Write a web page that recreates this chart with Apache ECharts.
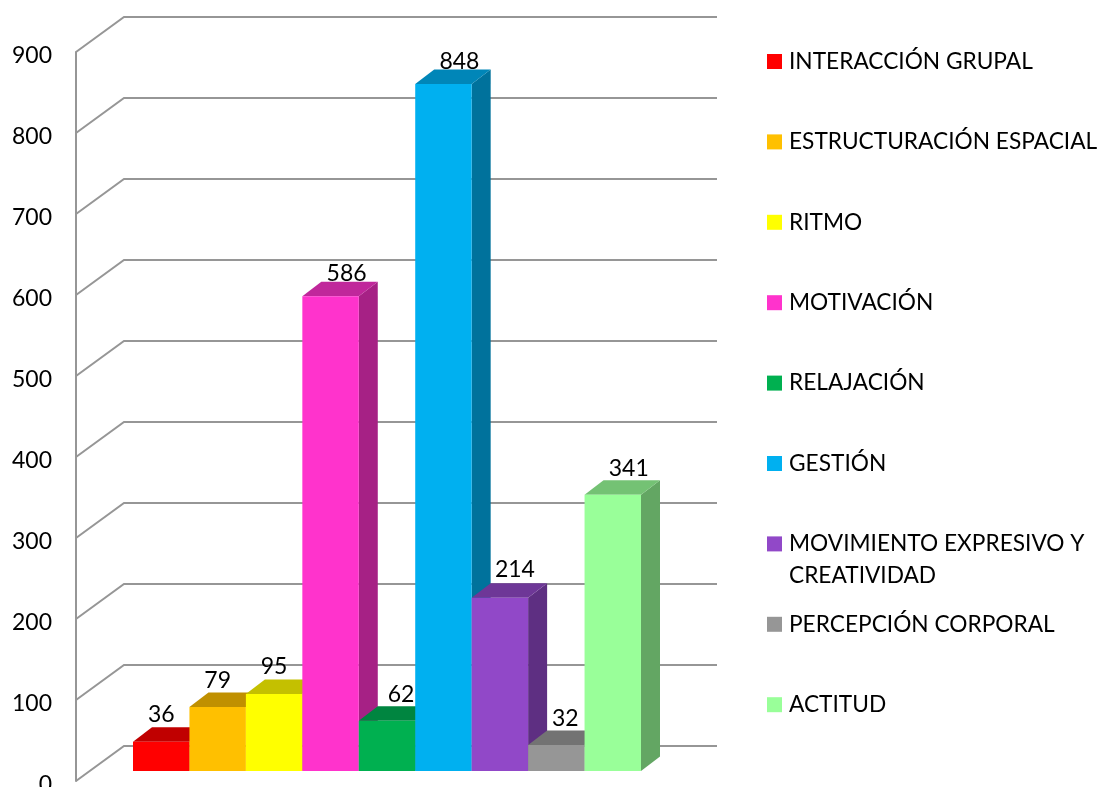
<!DOCTYPE html>
<html>
<head>
<meta charset="utf-8">
<style>html,body{margin:0;padding:0;background:#fff}#main{width:1099px;height:787px}</style>
<script src="https://cdn.jsdelivr.net/npm/echarts@6/dist/echarts.min.js"></script>
</head>
<body>
<div id="main"></div>
<script>
var categories = ['INTERACCIÓN GRUPAL', 'ESTRUCTURACIÓN ESPACIAL', 'RITMO', 'MOTIVACIÓN', 'RELAJACIÓN', 'GESTIÓN', 'MOVIMIENTO EXPRESIVO Y CREATIVIDAD', 'PERCEPCIÓN CORPORAL', 'ACTITUD'];
var values = [36, 79, 95, 586, 62, 848, 214, 32, 341];
var yTicks = [0, 100, 200, 300, 400, 500, 600, 700, 800, 900];

var frontColors = ['#FF0000', '#FFC000', '#FFFF00', '#FF33CC', '#00B050', '#00B0F0', '#9148C8', '#969696', '#99FF99'];
var topColors = ['#C00000', '#C09000', '#C4C000', '#C0279B', '#008540', '#0086B8', '#6E3797', '#737373', '#74C274'];
var sideColors = ['#A60000', '#A67D00', '#A6A600', '#A62185', '#00722D', '#00729C', '#5E2F82', '#616161', '#63A663'];
// the data labels were placed by hand in the original
var labelShift = [0, 0, 0, 16, 14, 16, 15, 9, 16];
var labelRaise = [13, 12, 13, 8, 12, 8, 14, 12, 12];

var myChart = echarts.init(document.getElementById('main'));
var FONT = 'Lato';
var wallDx = 48, wallDy = -35;   // perspective of the walls
var barDx = 19, barDy = -14.5;   // depth of the bars

function renderWall (params, api) {
    var left = api.coord([0, api.value(0)]);
    var right = api.coord([1, api.value(0)]);
    return {
        type: 'polyline',
        shape: {points: [left, [left[0] + wallDx, left[1] + wallDy], [right[0] + wallDx, right[1] + wallDy]]},
        style: {stroke: '#969696', lineWidth: 2, fill: null}
    };
}

function makeBarRender (i) {
    return function (params, api) {
        var t = api.coord([api.value(0), api.value(1)]);
        var b = api.coord([api.value(0), 0]);
        var w = api.size([1, 0])[0];
        var x0 = t[0] - w / 2, x1 = t[0] + w / 2;
        return {
            type: 'group',
            children: [
                {
                    type: 'polygon', z2: i,
                    shape: {points: [[x1, t[1]], [x1 + barDx, t[1] + barDy], [x1 + barDx, b[1] + barDy], [x1, b[1]]]},
                    style: {fill: sideColors[i]}
                },
                {
                    type: 'polygon', z2: i,
                    shape: {points: [[x0, t[1]], [x0 + barDx, t[1] + barDy], [x1 + barDx, t[1] + barDy], [x1, t[1]]]},
                    style: {fill: topColors[i]}
                },
                {
                    type: 'rect', z2: i,
                    shape: {x: x0, y: t[1], width: w, height: b[1] - t[1]},
                    style: {fill: frontColors[i]}
                },
                {
                    type: 'text', z2: 100,
                    x: t[0] + labelShift[i],
                    y: t[1] + barDy - labelRaise[i],
                    style: {text: String(api.value(1)), font: '23px ' + FONT, fill: '#000', align: 'center', verticalAlign: 'middle'}
                }
            ]
        };
    };
}

var series = [{
    name: 'walls',
    type: 'custom',
    xAxisIndex: 0,
    yAxisIndex: 0,
    silent: true,
    renderItem: renderWall,
    encode: {y: 0},
    data: yTicks.map(function (v) { return [v]; })
}];
categories.forEach(function (name, i) {
    series.push({
        name: name,
        type: 'custom',
        xAxisIndex: 1,
        yAxisIndex: 1,
        itemStyle: {color: frontColors[i]},
        renderItem: makeBarRender(i),
        encode: {x: 0, y: 1},
        data: [[name, values[i]]]
    });
});

var option = {
    animation: false,
    backgroundColor: '#fff',
    textStyle: {fontFamily: FONT},
    grid: [
        {left: 76, top: 52, width: 593, height: 729, outerBoundsMode: 'none'},
        {left: 133, top: 42, width: 508, height: 729, outerBoundsMode: 'none'}
    ],
    xAxis: [
        {gridIndex: 0, type: 'value', min: 0, max: 1, show: false},
        {gridIndex: 1, type: 'category', data: categories, show: false}
    ],
    yAxis: [
        {
            gridIndex: 0, type: 'value', min: 0, max: 900, interval: 100,
            axisLine: {show: true, lineStyle: {color: '#969696', width: 2}},
            axisTick: {show: false},
            splitLine: {show: false},
            // top aligned with a short line box, to sit a little under the tick as in the original
            axisLabel: {color: '#000', fontSize: 23, fontFamily: FONT, margin: 24, verticalAlign: 'top', lineHeight: 7}
        },
        {gridIndex: 1, type: 'value', min: 0, max: 900, show: false}
    ],
    legend: {
        orient: 'vertical',
        left: 767,
        top: 50,
        padding: 0,
        icon: 'rect',
        itemWidth: 15,
        itemHeight: 15,
        itemGap: 57.4,
        selectedMode: false,
        data: categories,
        formatter: function (name) { return name.replace(' CREATIVIDAD', ''); },
        textStyle: {color: '#000', fontSize: 22.7, fontFamily: FONT, padding: [0, 0, 0, 2]}
    },
    graphic: [{
        type: 'text',
        left: 789,
        top: 564,
        style: {text: 'CREATIVIDAD', font: '22.7px ' + FONT, fill: '#000'}
    }],
    series: series
};
myChart.setOption(option);
</script>
</body>
</html>
